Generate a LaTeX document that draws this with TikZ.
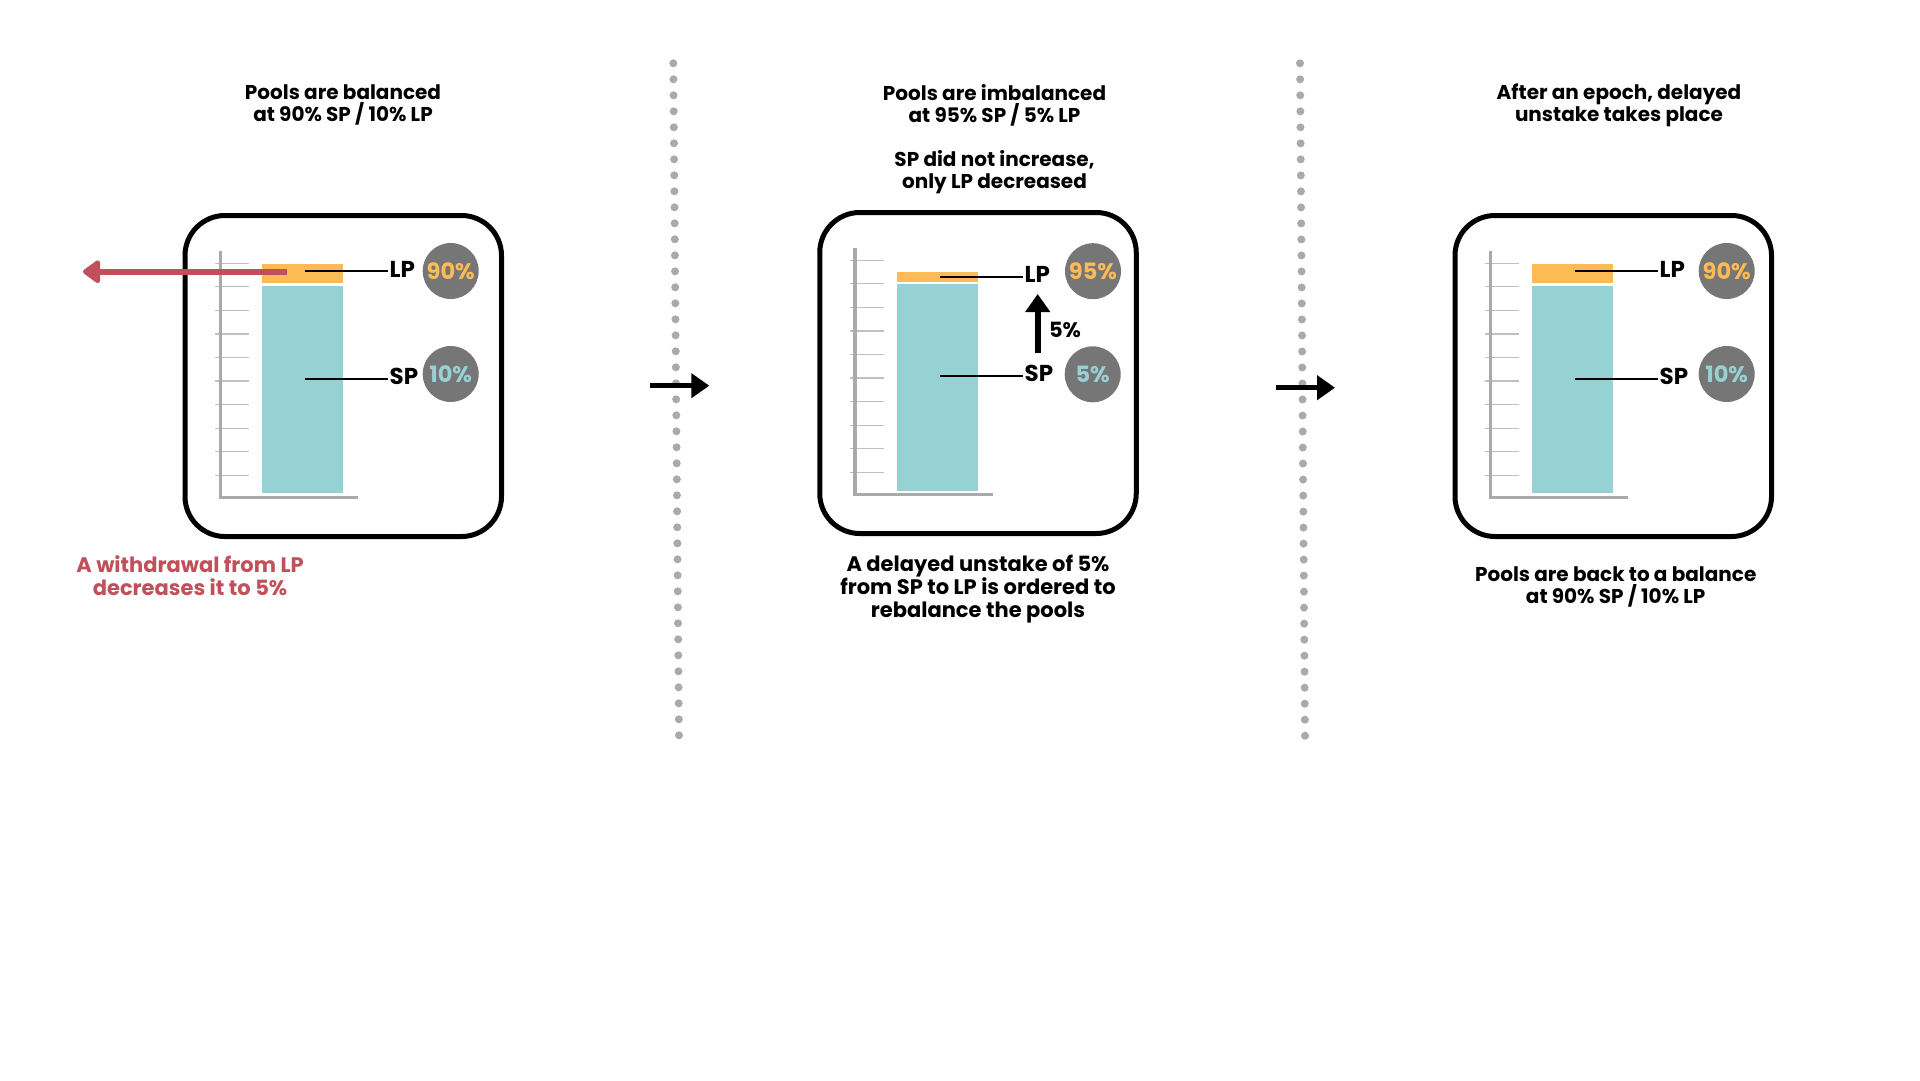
\documentclass[tikz,border=0pt]{standalone}
\usepackage{fontspec}
\setmainfont{Poppins}
\usetikzlibrary{arrows.meta}
\definecolor{lporange}{RGB}{253,187,86}
\definecolor{spteal}{RGB}{150,209,211}
\definecolor{circgray}{RGB}{118,118,118}
\definecolor{wred}{RGB}{192,80,90}
\definecolor{dotgray}{RGB}{170,170,170}
\definecolor{axisgray}{RGB}{170,170,170}
\definecolor{tickgray}{RGB}{192,192,192}
\begin{document}
\begin{tikzpicture}[x=1pt,y=-1pt,
  txt/.style={font=\fontsize{20}{22}\selectfont\bfseries, align=center, inner sep=0pt},
  bigtxt/.style={font=\fontsize{21}{23}\selectfont\bfseries, align=center, inner sep=0pt},
  panelbox/.style={line width=5pt, rounded corners=40pt, draw=black, minimum width=316.5pt, minimum height=321pt, inner sep=0pt},
  axisline/.style={line width=3.5pt, draw=axisgray},
  tickline/.style={line width=1.2pt, draw=tickgray},
  leader/.style={line width=2pt, draw=black},
  poollabel/.style={font=\fontsize{23}{25}\selectfont\bfseries, anchor=west, inner sep=1.5pt},
  pct/.style={circle, fill=circgray, minimum size=56pt, inner sep=0pt, font=\fontsize{22.5}{24}\selectfont\bfseries},
  flowarrow/.style={line width=5.5pt, -{Triangle[length=18pt,width=24pt]}},
  redarrow/.style={line width=6pt, draw=wred, -{Triangle[length=19pt,width=26pt,round]}}
]
\useasboundingbox (0,0) rectangle (1920,1080);
\fill[white] (0,0) rectangle (1920,1080);

% dotted separators
\foreach \i in {0,...,42} \fill[dotgray] ({673.3+5.7*\i/42},{63.3+16*\i}) circle[radius=4pt];
\foreach \i in {0,...,42} \fill[dotgray] ({1300+5*\i/42},{63.3+16.01*\i}) circle[radius=4pt];

% ---------- panel 1 ----------
\node[panelbox] (box1) at (343.25,376) {};
\foreach \k in {0,...,9} \draw[tickline] (215,{263.3+23.55*\k}) -- (249,{263.3+23.55*\k});
\draw[axisline] (220.7,250.7) -- (220.7,497.3) -- (358,497.3);
\fill[lporange] (262,264) rectangle (343,283.3);
\fill[spteal] (262,285.5) rectangle (343,493.3);
\node[poollabel] (lp1) at (388,269) {LP};
\node[poollabel] (sp1) at (388,376) {SP};
\coordinate (lp1s) at (305,271);
\coordinate (sp1s) at (305,379);
\draw[leader] (lp1s) -- (lp1s -| lp1.west);
\draw[leader] (sp1s) -- (sp1s -| sp1.west);
\node[pct, text=lporange] (c1lp) at (450.7,271) {90\%};
\node[pct, text=spteal] (c1sp) at (450.7,374) {10\%};
\coordinate (w1) at (286.7,271.7);
\coordinate (w1end) at (83,271.7);
\draw[redarrow] (w1) -- (w1end);

% ---------- panel 2 ----------
\node[panelbox] (box2) at (978,373) {};
\foreach \k in {0,...,9} \draw[tickline] (850,{260.3+23.55*\k}) -- (884,{260.3+23.55*\k});
\draw[axisline] (855,248.3) -- (855,494.3) -- (993.3,494.3);
\fill[lporange] (896.7,271.7) rectangle (977.7,281.7);
\fill[spteal] (896.7,283.7) rectangle (977.7,490.7);
\node[poollabel] (lp2) at (1023,274.5) {LP};
\node[poollabel] (sp2) at (1023,373) {SP};
\coordinate (lp2s) at (940,276.7);
\coordinate (sp2s) at (940,375.7);
\draw[leader] (lp2s) -- (lp2s -| lp2.west);
\draw[leader] (sp2s) -- (sp2s -| sp2.west);
\node[pct, text=lporange] (c2lp) at (1093,271.2) {95\%};
\node[pct, text=spteal] (c2sp) at (1092.7,374.3) {5\%};
\coordinate (up0) at (1037.7,353.3);
\coordinate (up1) at (1037.7,294);
\draw[flowarrow, line width=6pt] (up0) -- (up1);
\node[bigtxt] (up2lbl) at (1065,330) {5\%};

% ---------- panel 3 ----------
\node[panelbox] (box3) at (1613.25,376) {};
\foreach \k in {0,...,9} \draw[tickline] (1485,{263.3+23.55*\k}) -- (1519,{263.3+23.55*\k});
\draw[axisline] (1490.7,250.7) -- (1490.7,497.3) -- (1628,497.3);
\fill[lporange] (1532,264) rectangle (1613,283.3);
\fill[spteal] (1532,285.5) rectangle (1613,493.3);
\node[poollabel] (lp3) at (1658,269) {LP};
\node[poollabel] (sp3) at (1658,376) {SP};
\coordinate (lp3s) at (1575,271);
\coordinate (sp3s) at (1575,379);
\draw[leader] (lp3s) -- (lp3s -| lp3.west);
\draw[leader] (sp3s) -- (sp3s -| sp3.west);
\node[pct, text=lporange] (c3lp) at (1726.7,271) {90\%};
\node[pct, text=spteal] (c3sp) at (1726.7,374) {10\%};

% ---------- flow arrows ----------
\coordinate (a1s) at (650,385.7);
\coordinate (a1e) at (709.3,385.7);
\coordinate (a2s) at (1275.7,387.7);
\coordinate (a2e) at (1335,387.7);
\draw[flowarrow] (a1s) -- (a1e);
\draw[flowarrow] (a2s) -- (a2e);

% ---------- texts ----------
\node[txt] (t1) at (343,105) {Pools are balanced\\at 90\% SP / 10\% LP};
\node[txt] (t2a) at (994.5,105) {Pools are imbalanced\\at 95\% SP / 5\% LP};
\node[txt] (t2b) at (994.5,172) {SP did not increase,\\only LP decreased};
\node[txt] (t3) at (1619,105) {After an epoch, delayed\\unstake takes place};
\node[bigtxt, text=wred] (r1) at (190,576) {A withdrawal from LP\\decreases it to 5\%};
\node[bigtxt] (b2) at (978,589) {A delayed unstake of 5\%\\from SP to LP is ordered to\\rebalance the pools};
\node[txt] (b3) at (1615.7,587) {Pools are back to a balance\\at 90\% SP / 10\% LP};
\end{tikzpicture}
\end{document}
